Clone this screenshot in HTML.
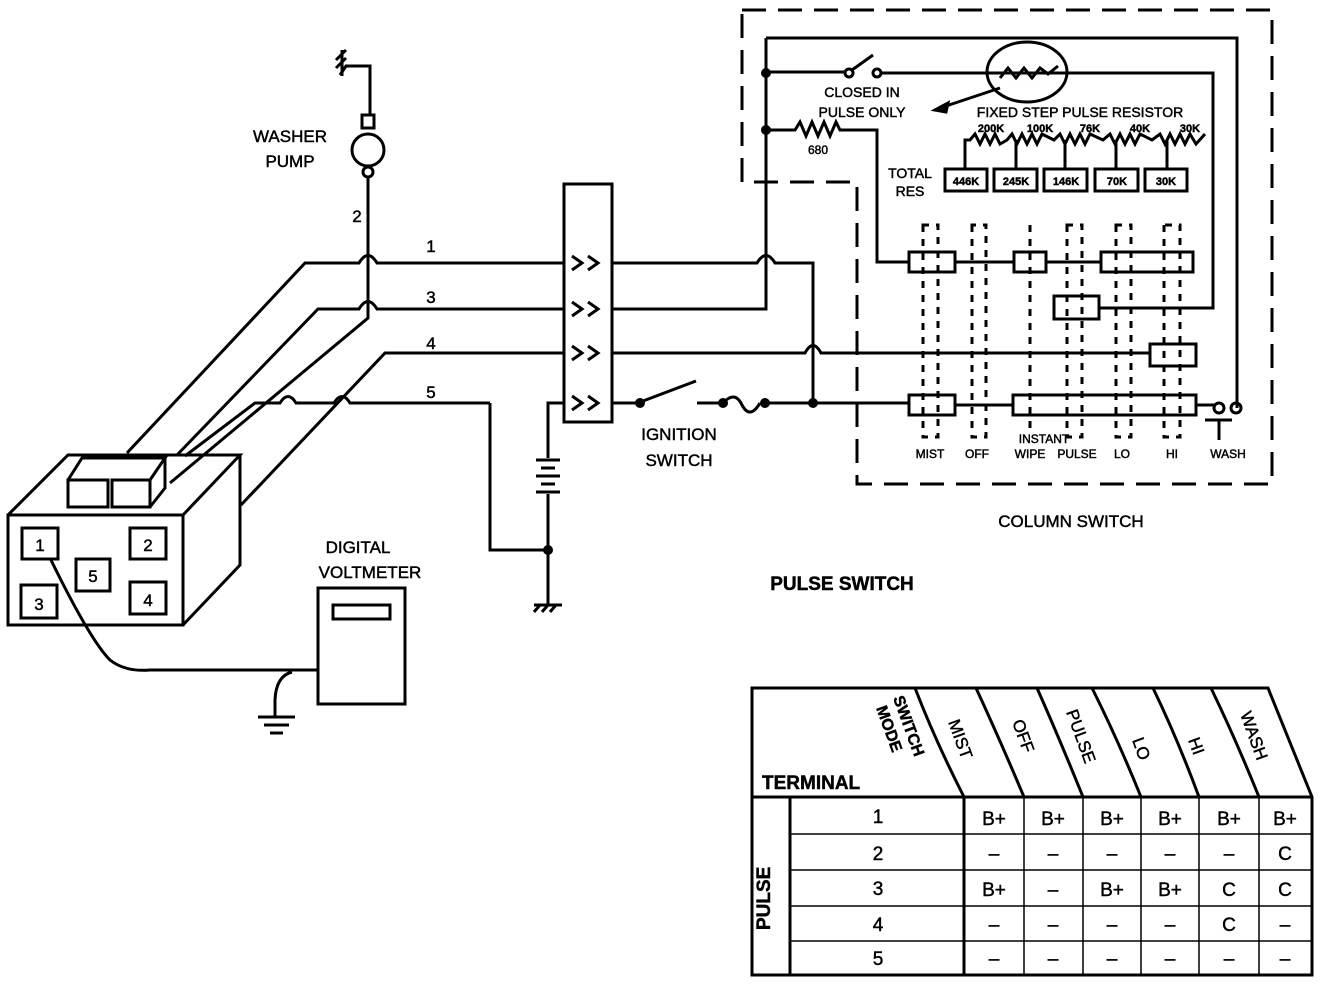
<!DOCTYPE html>
<html><head><meta charset="utf-8"><style>
html,body{margin:0;padding:0;background:#fff;}
svg{display:block;}
text{font-family:"Liberation Sans",sans-serif;fill:#000;stroke:#000;stroke-width:0.45;}
</style></head><body>
<svg width="1328" height="984" viewBox="0 0 1328 984" xmlns="http://www.w3.org/2000/svg">
<g fill="none" stroke="#000" stroke-width="3" stroke-linejoin="miter">
<path d="M742 10 H1272 V484 H857 V182 H742 Z" stroke-dasharray="24 12"/>
<path d="M766 38 H1237 V408"/>
<path d="M766 38 V309 H613"/>
<path d="M766 72 H845"/>
<circle cx="849" cy="73" r="4"/><circle cx="877" cy="73" r="4"/>
<path d="M852 70 L873 55"/>
<path d="M881 73 H1213 V308 H1099"/>
<ellipse cx="1027" cy="72" rx="40" ry="30"/>
<path d="M1000 78 L1008 68 L1016 78 L1024 68 L1032 78 L1040 68 L1048 74 L1058 66"/>
<path d="M1000 88 L940 108"/><path d="M935 110 L948 103 L946 112 Z" fill="#000"/>
<path d="M766 130 H795 L800 122 L806 136 L812 122 L818 136 L824 122 L830 136 L836 122 L840 130 H877 V262 H909"/>
<path d="M965 168 V140 H970 L975 134 L980 144 L985 134 L990 144 L995 134 L1000 144 L1007 140 L1012 134 L1017 144 L1022 134 L1027 144 L1032 134 L1037 144 L1042 134 L1054 140 L1060 134 L1065 144 L1070 134 L1075 144 L1080 134 L1085 144 L1090 134 L1103 140 L1110 134 L1115 144 L1120 134 L1125 144 L1130 134 L1135 144 L1140 134 L1152 140 L1160 134 L1165 144 L1170 134 L1175 144 L1180 134 L1185 144 L1190 134 L1196 144 L1205 134"/>
<path d="M1016 140 V168 M1065 140 V168 M1116 140 V168 M1167 140 V168"/>
<rect x="945" y="169" width="42" height="22"/><rect x="994" y="169" width="43" height="22"/>
<rect x="1044" y="169" width="43" height="22"/><rect x="1095" y="169" width="43" height="22"/>
<rect x="1145" y="169" width="42" height="22"/>
<rect x="909" y="252" width="46" height="20"/><path d="M955 262 H1014"/>
<rect x="1014" y="252" width="32" height="20"/><path d="M1046 262 H1101"/>
<rect x="1101" y="252" width="92" height="20"/>
<rect x="1054" y="296" width="45" height="23"/>
<path d="M613 353 H805 Q813 338 821 353 H1150"/>
<rect x="1150" y="344" width="46" height="22"/>
<rect x="909" y="395" width="46" height="20"/><path d="M955 405 H1013"/>
<rect x="1013" y="395" width="183" height="20"/><path d="M1196 405 H1214"/>
<circle cx="1219" cy="408" r="5"/><circle cx="1236" cy="408" r="5"/>
<path d="M1205 420 H1232 M1219 420 V440"/>
<path d="M613 263 H757 Q766 248 775 263 H813 V403"/>
<path d="M613 403 H640 M643 401 L696 381 M697 403 H723 M723 403 Q735 390 742 405 Q750 420 760 403 M765 403 H909"/>
</g>
<g fill="#000">
<circle cx="766" cy="73" r="5"/><circle cx="766" cy="130" r="5"/>
<circle cx="640" cy="403" r="5"/><circle cx="723" cy="403" r="5"/><circle cx="765" cy="403" r="5"/><circle cx="813" cy="403" r="5"/>
<circle cx="548" cy="550" r="5"/>
</g>
<g fill="none" stroke="#000" stroke-width="3" stroke-dasharray="7 7">
<path d="M923 225 V437 H938 V225 Z"/><path d="M972 225 V437 H986 V225 Z"/>
<path d="M1030 225 V430"/><path d="M1067 225 V437 H1082 V225 Z"/>
<path d="M1116 225 V437 H1131 V225 Z"/><path d="M1164 225 V437 H1180 V225 Z"/>
</g>
<g fill="none" stroke="#000" stroke-width="3">
<rect x="564" y="184" width="48" height="238"/>
<path d="M572 256 L582 263 L572 270 M588 256 L598 263 L588 270"/>
<path d="M572 302 L582 309 L572 316 M588 302 L598 309 L588 316"/>
<path d="M572 346 L582 353 L572 360 M588 346 L598 353 L588 360"/>
<path d="M572 396 L582 403 L572 410 M588 396 L598 403 L588 410"/>
<path d="M564 403 H548 V458 M536 460 H560 M541 468 H555 M536 476 H560 M541 484 H555 M536 492 H560 M548 494 V605 M534 605 H562 M534 612 L540 605 M542 612 L548 605 M550 612 L556 605"/>
<path d="M564 263 H377 Q368 248 359 263 H305 L127 453"/>
<path d="M564 309 H377 Q368 294 359 309 H318 L177 455"/>
<path d="M368 178 V318 L170 483"/>
<path d="M564 353 H385 L241 505"/>
<path d="M490 403 V550 H548 M490 403 H350 Q342 390 334 403 H296 Q288 390 280 403 H255 L185 456"/>
<path d="M345 66 H370 V115"/><path d="M336 60 L346 50 M336 68 L346 58 M340 75 L346 66 M342 50 V76"/>
<rect x="362" y="115" width="12" height="13"/>
<circle cx="368" cy="150" r="16"/><circle cx="368" cy="172" r="5"/>
<path d="M8 515 H183 V625 H8 Z M8 515 L68 455 H240 L183 515 M240 455 V565 L183 625"/>
<path d="M68 480 H108 V507 H68 Z M112 480 H150 V507 H112 Z M68 480 L82 458 H165 L150 480 M165 458 V488 L150 507"/>
<rect x="22" y="528" width="36" height="31"/><rect x="130" y="528" width="36" height="31"/>
<rect x="76" y="559" width="34" height="32"/><rect x="21" y="585" width="36" height="33"/>
<rect x="130" y="582" width="36" height="32"/>
<rect x="318" y="588" width="87" height="116"/><rect x="333" y="605" width="57" height="14"/>
<path d="M50 558 Q90 640 110 660 Q125 672 150 670 H318"/>
<path d="M292 672 Q276 676 275 700 V716 M258 717 H295 M264 725 H289 M270 733 H283"/>
</g>
<g font-size="17" text-anchor="middle">
<text x="290" y="142">WASHER</text><text x="290" y="167">PUMP</text>
<text x="357" y="222">2</text>
<text x="431" y="252">1</text><text x="431" y="303">3</text><text x="431" y="349">4</text><text x="431" y="398">5</text>
<text x="40" y="551">1</text><text x="148" y="551">2</text><text x="93" y="582">5</text><text x="39" y="610">3</text><text x="148" y="606">4</text>
<text x="358" y="553">DIGITAL</text><text x="370" y="578">VOLTMETER</text>
<text x="679" y="440">IGNITION</text><text x="679" y="466">SWITCH</text>
<text x="1071" y="527">COLUMN SWITCH</text>
<text x="842" y="590" font-weight="bold" font-size="19">PULSE SWITCH</text>
</g>
<g font-size="14" text-anchor="middle">
<text x="862" y="97">CLOSED IN</text><text x="862" y="117">PULSE ONLY</text>
<text x="1080" y="117">FIXED STEP PULSE RESISTOR</text>
<text x="818" y="154" font-size="12">680</text>
<text x="910" y="178">TOTAL</text><text x="910" y="196">RES</text>
<text x="1044" y="443" font-size="12">INSTANT</text>
</g>
<g font-size="11" font-weight="bold" text-anchor="middle">
<text x="991" y="132">200K</text><text x="1040" y="132">100K</text><text x="1090" y="132">76K</text><text x="1140" y="132">40K</text><text x="1190" y="132">30K</text>
<text x="966" y="185">446K</text><text x="1016" y="185">245K</text><text x="1066" y="185">146K</text><text x="1117" y="185">70K</text><text x="1166" y="185">30K</text>
</g>
<g font-size="12" text-anchor="middle">
<text x="930" y="458">MIST</text><text x="977" y="458">OFF</text><text x="1030" y="458">WIPE</text><text x="1077" y="458">PULSE</text><text x="1122" y="458">LO</text><text x="1172" y="458">HI</text><text x="1228" y="458">WASH</text>
</g>
<g fill="none" stroke="#000" stroke-width="3">
<path d="M752 688 H1268 L1312 797 V975 H752 Z"/>
<path d="M752 797 H1312 M790 797 V975 M964 797 V975"/>
<path d="M915 688 Q935 740 964 797 M976 688 Q1000 740 1024 797 M1037 688 Q1060 740 1083 797 M1092 688 Q1118 740 1141 797 M1153 688 Q1178 740 1199 797 M1211 688 Q1236 740 1259 797"/>
</g>
<g fill="none" stroke="#000" stroke-width="1.5">
<path d="M1024 797 V975 M1083 797 V975 M1141 797 V975 M1199 797 V975 M1259 797 V975"/>
<path d="M790 834 H1312 M790 870 H1312 M790 906 H1312 M790 941 H1312"/>
</g>
<g font-size="19" font-weight="bold">
<text x="762" y="789">TERMINAL</text>
<text transform="translate(770,930) rotate(-90)">PULSE</text>
<text font-size="16" transform="translate(893,698) rotate(70)">SWITCH</text>
<text font-size="16" transform="translate(876,708) rotate(70)">MODE</text>
</g>
<g font-size="17">
<text transform="translate(948,722) rotate(70)">MIST</text>
<text transform="translate(1012,722) rotate(70)">OFF</text>
<text transform="translate(1066,712) rotate(70)">PULSE</text>
<text transform="translate(1132,740) rotate(70)">LO</text>
<text transform="translate(1188,740) rotate(70)">HI</text>
<text transform="translate(1240,714) rotate(70)">WASH</text>
</g>
<g font-size="19" text-anchor="middle">
<text x="878" y="823">1</text><text x="878" y="860">2</text><text x="878" y="895">3</text><text x="878" y="931">4</text><text x="878" y="965">5</text>
<text x="994" y="825">B+</text><text x="1053" y="825">B+</text><text x="1112" y="825">B+</text><text x="1170" y="825">B+</text><text x="1229" y="825">B+</text><text x="1285" y="825">B+</text>
<text x="994" y="860">–</text><text x="1053" y="860">–</text><text x="1112" y="860">–</text><text x="1170" y="860">–</text><text x="1229" y="860">–</text><text x="1285" y="860">C</text>
<text x="994" y="896">B+</text><text x="1053" y="896">–</text><text x="1112" y="896">B+</text><text x="1170" y="896">B+</text><text x="1229" y="896">C</text><text x="1285" y="896">C</text>
<text x="994" y="931">–</text><text x="1053" y="931">–</text><text x="1112" y="931">–</text><text x="1170" y="931">–</text><text x="1229" y="931">C</text><text x="1285" y="931">–</text>
<text x="994" y="965">–</text><text x="1053" y="965">–</text><text x="1112" y="965">–</text><text x="1170" y="965">–</text><text x="1229" y="965">–</text><text x="1285" y="965">–</text>
</g>
</svg>
</body></html>
